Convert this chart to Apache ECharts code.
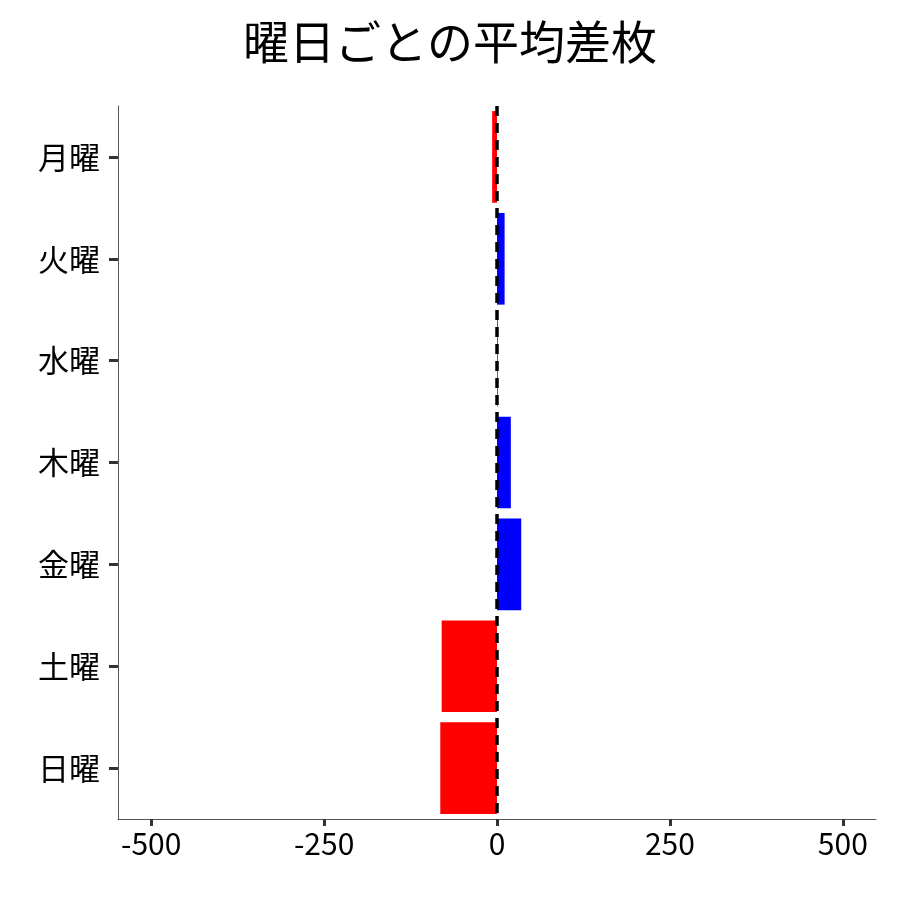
<!DOCTYPE html>
<html><head><meta charset="utf-8">
<script src="https://cdn.jsdelivr.net/npm/echarts@6/dist/echarts.min.js"></script>
<style>html,body{margin:0;padding:0;background:#fff}#c{width:900px;height:900px}</style>
</head><body><div id="c"></div>
<script>
const days = ['月曜','火曜','水曜','木曜','金曜','土曜','日曜'];
const values = [-7, 11, 1, 20, 35, -80, -82];
const xTicks = [-500, -250, 0, 250, 500];
const font = '"Noto Sans CJK JP", "Noto Sans", sans-serif';
const chart = echarts.init(document.getElementById('c'));
chart.setOption({
  animation: false,
  title: {text: '曜日ごとの平均差枚', left: 'center', top: 14,
    textStyle: {fontFamily: font, fontSize: 46, fontWeight: 'normal', color: '#000'}},
  grid: {left: 118, right: 24, top: 106, bottom: 81},
  xAxis: {type: 'value', min: -548, max: 548, splitLine: {show: false},
    axisLine: {show: true, onZero: false, lineStyle: {color: '#555', width: 1}},
    axisTick: {show: true, customValues: xTicks, length: 7, lineStyle: {color: '#333', width: 3}},
    axisLabel: {customValues: xTicks, fontFamily: font, fontSize: 30, color: '#000', margin: 10,
      formatter: v => String(v)}},
  yAxis: {type: 'category', data: days, inverse: true,
    axisLine: {show: true, onZero: false, lineStyle: {color: '#555', width: 1}},
    axisTick: {show: true, alignWithLabel: true, length: 9, lineStyle: {color: '#333', width: 3}},
    axisLabel: {fontFamily: font, fontSize: 31, color: '#000', margin: 18}},
  series: [{type: 'bar', barWidth: '90%',
    data: values.map(v => ({value: v, itemStyle: {color: v < 0 ? '#ff0000' : '#0000ff'}})),
    markLine: {symbol: 'none', silent: true, label: {show: false},
      lineStyle: {color: '#000', type: [10, 7], width: 3.5},
      data: [{xAxis: 0}]}}]
});
</script></body></html>
